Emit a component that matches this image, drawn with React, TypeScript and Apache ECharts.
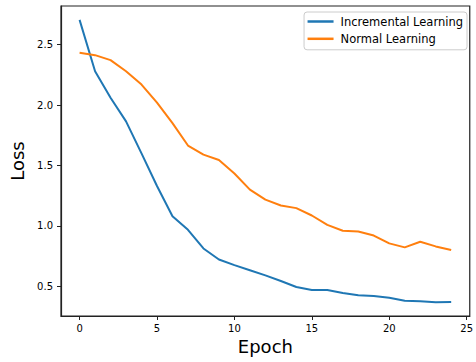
import React, { useEffect, useRef } from "react";
import * as echarts from "echarts";

const epochs = [0, 1, 2, 3, 4, 5, 6, 7, 8, 9, 10, 11, 12, 13, 14, 15, 16, 17, 18, 19, 20, 21, 22, 23, 24];
const incrementalLoss = [2.705, 2.28, 2.06, 1.865, 1.6, 1.33, 1.08, 0.967, 0.813, 0.722, 0.675, 0.633, 0.59, 0.544, 0.494, 0.47, 0.47, 0.445, 0.425, 0.42, 0.405, 0.38, 0.376, 0.368, 0.37];
const normalLoss = [2.433, 2.413, 2.372, 2.28, 2.17, 2.02, 1.85, 1.665, 1.59, 1.545, 1.433, 1.3, 1.217, 1.169, 1.147, 1.086, 1.008, 0.96, 0.953, 0.92, 0.855, 0.822, 0.869, 0.83, 0.8];
const xTicks = [0, 5, 10, 15, 20, 25];
const yTicks = [0.5, 1.0, 1.5, 2.0, 2.5];
const seriesNames = ["Incremental Learning", "Normal Learning"];

const FONT = "DejaVu Sans";

export default function App() {
  const ref = useRef<HTMLDivElement>(null);
  useEffect(() => {
    if (!ref.current) return;
    const chart = echarts.init(ref.current, null, { renderer: "svg" });
    const axisLine = { show: true, onZero: false, lineStyle: { color: "#222", width: 1.2 } };
    const tick = { show: true, length: 4, lineStyle: { color: "#222", width: 1 } };
    chart.setOption({
      animation: false,
      backgroundColor: "#fff",
      grid: {
        left: 58,
        right: 6,
        top: 6,
        bottom: 46,
        show: true,
        borderColor: "#222",
        borderWidth: 1.2,
        backgroundColor: "transparent",
      },
      legend: {
        data: seriesNames,
        orient: "vertical",
        right: 9,
        top: 12,
        icon: "rect",
        itemWidth: 26,
        itemHeight: 2.5,
        itemGap: 3.3,
        padding: [2.5, 4, 4, 3.5],
        borderColor: "#cccccc",
        borderWidth: 1,
        borderRadius: 3,
        backgroundColor: "rgba(255,255,255,0.8)",
        textStyle: { fontFamily: FONT, fontSize: 11.5, color: "#000", lineHeight: 14, padding: [0, 0, 0, 2] },
      },
      xAxis: {
        type: "value",
        min: -1.2,
        max: 25.2,
        name: "Epoch",
        nameLocation: "middle",
        nameGap: 20,
        nameTextStyle: { fontFamily: FONT, fontSize: 18, color: "#000", verticalAlign: "top" },
        axisLine,
        splitLine: { show: false },
        axisTick: { ...tick, customValues: xTicks },
        axisLabel: {
          customValues: xTicks,
          fontFamily: FONT,
          fontSize: 10,
          color: "#000",
          margin: 7,
        },
      },
      yAxis: {
        type: "value",
        min: 0.254,
        max: 2.82,
        name: "Loss",
        nameLocation: "middle",
        nameGap: 35,
        nameTextStyle: { fontFamily: FONT, fontSize: 18, color: "#000" },
        axisLine,
        splitLine: { show: false },
        axisTick: { ...tick, customValues: yTicks },
        axisLabel: {
          customValues: yTicks,
          fontFamily: FONT,
          fontSize: 10,
          color: "#000",
          margin: 8,
          formatter: (v: number) => v.toFixed(1),
        },
      },
      series: [
        {
          name: seriesNames[0],
          type: "line",
          data: epochs.map((e, i) => [e, incrementalLoss[i]]),
          showSymbol: false,
          lineStyle: { color: "#1f77b4", width: 2 },
          itemStyle: { color: "#1f77b4" },
        },
        {
          name: seriesNames[1],
          type: "line",
          data: epochs.map((e, i) => [e, normalLoss[i]]),
          showSymbol: false,
          lineStyle: { color: "#ff7f0e", width: 2 },
          itemStyle: { color: "#ff7f0e" },
        },
      ],
    });
    return () => chart.dispose();
  }, []);
  return (
    <div
      ref={ref}
      style={{ position: "fixed", left: 0, top: 0, width: 476, height: 362, background: "#fff" }}
    />
  );
}
